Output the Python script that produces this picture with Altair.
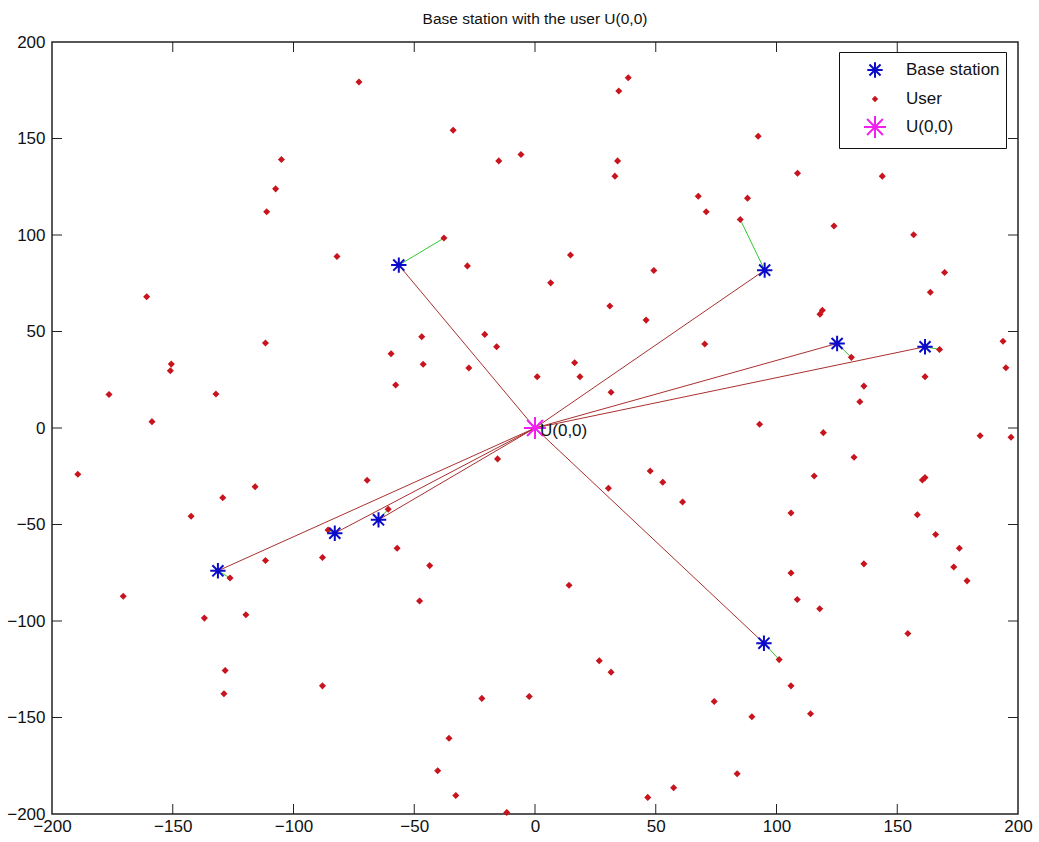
import altair as alt
import pandas as pd

# ---------------- data ----------------
bs_x = [-56.4, 95.1, 125.1, 161.5, 94.8, -131.3, -82.9, -64.8]
bs_y = [84.4, 81.8, 43.8, 42.1, -111.5, -74.0, -54.5, -47.6]

# user nearest to each base station (green links)
near_x = [-37.7, 85.0, 131.0, 167.5, 101.1, -126.3, -85.7, -60.8]
near_y = [98.4, 108.0, 36.6, 40.7, -120.0, -77.7, -52.8, -42.1]

user_x = [-72.9, -33.9, -15.0, -5.8, -105.0, -107.4, -111.1, -82.0, -28.0, -160.8,
          -111.6, -46.9, -20.8, -15.9, -59.6, -46.3, -27.4, -57.7, -150.6, -151.0,
          -176.4, -132.1, -158.6,
          38.6, 34.7, 92.4, 34.2, 33.1, 108.7, 143.8, 67.6, 88.0, 70.9,
          123.8, 156.8, 14.7, 49.2, 6.5, 169.6, 163.7, 31.0, 119.0, 118.0,
          46.0, 70.3, 193.8, 195.0, 16.4, 0.9, 18.6, 161.5, 136.2, 134.5,
          31.5, 93.0,
          -189.3, -115.9, -129.3, -69.5, -15.5, -142.4, -57.1, -111.6, -88.0,
          -43.6, -170.5, -47.8, -136.9, -119.7, -128.3, -128.8, -88.0, -22.0,
          -35.6, -40.3, -32.8, -11.7,
          119.4, 184.3, 197.1, 132.1, 47.7, 52.9, 115.6, 30.4, 160.4, 161.5,
          61.1, 106.0, 158.3, 165.9, 175.7, 136.2, 173.4, 178.9, 106.0, 14.1,
          108.6, 117.9, 154.4, 26.6, 31.5, 106.0, -2.4, 74.2, 89.8, 114.1,
          83.7, 57.4, 46.7]
user_y = [179.3, 154.3, 138.4, 141.7, 139.1, 123.9, 112.0, 88.9, 84.0, 68.0,
          44.0, 47.3, 48.5, 42.1, 38.5, 33.0, 31.1, 22.3, 33.1, 29.7,
          17.4, 17.6, 3.3,
          181.5, 174.6, 151.2, 138.4, 130.5, 132.0, 130.5, 120.1, 119.1, 112.0,
          104.7, 100.1, 89.6, 81.6, 75.2, 80.6, 70.3, 63.2, 61.0, 59.0,
          55.9, 43.5, 44.9, 31.2, 33.8, 26.6, 26.6, 26.6, 21.7, 13.6,
          18.5, 1.9,
          -24.0, -30.4, -36.1, -27.1, -16.0, -45.7, -62.3, -68.7, -67.1,
          -71.3, -87.2, -89.6, -98.5, -96.8, -125.6, -137.7, -133.6, -140.1,
          -160.8, -177.6, -190.4, -199.2,
          -2.4, -4.0, -4.8, -15.2, -22.3, -28.1, -24.9, -31.2, -26.9, -25.7,
          -38.3, -44.0, -44.9, -55.2, -62.3, -70.4, -72.0, -79.2, -75.1, -81.5,
          -88.9, -93.7, -106.5, -120.6, -126.5, -133.6, -139.1, -141.7, -149.6, -148.1,
          -179.1, -186.4, -191.4]

origin_x = [0.0]
origin_y = [0.0]

tick_values = [-200, -150, -100, -50, 0, 50, 100, 150, 200]
inner_ticks = [-150, -100, -50, 0, 50, 100, 150]

legend_names = ["Base station", "User", "U(0,0)"]
legend_colors = ["#0A0AC8", "#C8141E", "#F020F0"]

# ---------------- tables ----------------
W, H = 966, 772
FONT = "Liberation Sans, Arial, sans-serif"
SYM = 484  # common symbol size; marker extents are set inside each path


def asterisk(r):
    d = r * 0.72
    return (f"M{-r},0L{r},0M0,{-r}L0,{r}"
            f"M{-d},{-d}L{d},{d}M{-d},{d}L{d},{-d}")


def diamond(r):
    return f"M0,{-r}L{r},0L0,{r}L{-r},0Z"


bs_df = pd.DataFrame({"x": bs_x, "y": bs_y, "type": "Base station"})
users_df = pd.DataFrame({"x": user_x + near_x, "y": user_y + near_y, "type": "User"})
origin_df = pd.DataFrame({"x": origin_x, "y": origin_y, "type": "U(0,0)",
                          "label": ["U(0,0)"]})
red_links = pd.DataFrame({"x": [origin_x[0]] * len(bs_x), "y": [origin_y[0]] * len(bs_y),
                          "x2": bs_x, "y2": bs_y})
green_links = pd.DataFrame({"x": bs_x, "y": bs_y, "x2": near_x, "y2": near_y})
ticks_df = pd.DataFrame({"v": inner_ticks})

xs = alt.Scale(domain=[-200, 200], nice=False, zero=False)
ys = alt.Scale(domain=[-200, 200], nice=False, zero=False)

x_axis = alt.Axis(values=tick_values, ticks=False, domain=False, grid=False,
                  labelFont=FONT, labelFontSize=17, labelColor="#111",
                  labelPadding=4, title=None, labelFlush=False)
y_axis = alt.Axis(values=tick_values, ticks=False, domain=False, grid=False,
                  labelFont=FONT, labelFontSize=17, labelColor="#111",
                  labelPadding=7, title=None, labelFlush=False)

color_enc = alt.Color("type:N", scale=alt.Scale(domain=legend_names, range=legend_colors),
                      legend=alt.Legend(title=None, orient="none", legendX=787, legendY=10,
                                        strokeColor="#111", fillColor="white",
                                        padding=6, symbolOffset=18, labelOffset=19,
                                        rowPadding=5, labelFont=FONT, labelFontSize=17,
                                        labelColor="#111", symbolStrokeWidth=2,
                                        symbolSize=SYM, cornerRadius=0, labelLimit=300))
shape_enc = alt.Shape("type:N", scale=alt.Scale(domain=legend_names,
                                                range=[asterisk(0.7), diamond(0.16),
                                                       asterisk(1.0)]))

red_layer = alt.Chart(red_links).mark_rule(color="#A8302E", strokeWidth=1).encode(
    x=alt.X("x:Q", scale=xs, axis=x_axis), y=alt.Y("y:Q", scale=ys, axis=y_axis),
    x2="x2:Q", y2="y2:Q")
green_layer = alt.Chart(green_links).mark_rule(color="#30C830", strokeWidth=1).encode(
    x="x:Q", y="y:Q", x2="x2:Q", y2="y2:Q")

users_layer = alt.Chart(users_df).mark_point(filled=False, strokeWidth=2.5, opacity=1,
                                             size=SYM).encode(
    x="x:Q", y="y:Q", color=color_enc, shape=shape_enc)
bs_layer = alt.Chart(bs_df).mark_point(filled=False, strokeWidth=2, opacity=1,
                                       size=SYM).encode(
    x="x:Q", y="y:Q", color=color_enc, shape=shape_enc)
origin_layer = alt.Chart(origin_df).mark_point(filled=False, strokeWidth=2, opacity=1,
                                               size=SYM).encode(
    x="x:Q", y="y:Q", color=color_enc, shape=shape_enc)
origin_text = alt.Chart(origin_df).mark_text(align="left", baseline="middle", dx=5, dy=3,
                                             font=FONT, fontSize=17, color="#111").encode(
    x="x:Q", y="y:Q", text="label:N")

tick_top = alt.Chart(ticks_df).mark_rule(color="#222").encode(
    x="v:Q", y=alt.value(0), y2=alt.value(10))
tick_bottom = alt.Chart(ticks_df).mark_rule(color="#222").encode(
    x="v:Q", y=alt.value(H), y2=alt.value(H - 10))
tick_left = alt.Chart(ticks_df).mark_rule(color="#222").encode(
    y="v:Q", x=alt.value(0), x2=alt.value(10))
tick_right = alt.Chart(ticks_df).mark_rule(color="#222").encode(
    y="v:Q", x=alt.value(W), x2=alt.value(W - 10))

chart = alt.layer(
    red_layer, green_layer, users_layer, bs_layer, origin_layer, origin_text,
    tick_top, tick_bottom, tick_left, tick_right
).properties(
    width=W, height=H,
    autosize=alt.AutoSizeParams(type="none"),
    padding={"left": 52, "top": 42, "right": 21, "bottom": 28},
    title=alt.TitleParams("Base station with the user U(0,0)", font=FONT, fontSize=15.5,
                          fontWeight="normal", color="#111", anchor="middle", offset=6),
    background="white",
).configure_view(stroke="#222", strokeWidth=1.5)

chart.save("out.html", embed_options={"renderer": "svg", "actions": False})
